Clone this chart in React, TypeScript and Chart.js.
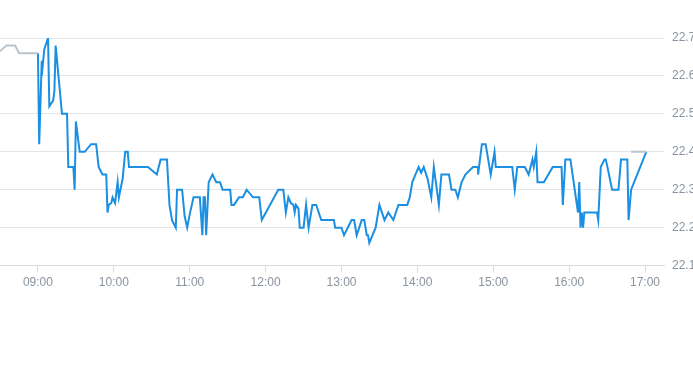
import React, { useEffect, useRef } from "react";
import { Chart, registerables } from "chart.js";

Chart.register(...registerables);

const hourTicks = ["09:00", "10:00", "11:00", "12:00", "13:00", "14:00", "15:00", "16:00", "17:00"];
const priceTicks = [22.1, 22.2, 22.3, 22.4, 22.5, 22.6, 22.7];

const preTimes = ["08:30", "08:35", "08:42", "08:45", "09:00"];
const prePrices = [22.665, 22.68, 22.68, 22.66, 22.66];

const postTimes = ["16:49", "17:01"];
const postPrices = [22.4, 22.4];

const mainTimes = [
  "09:00", "09:01", "09:03", "09:03", "09:05", "09:07", "09:08", "09:09", "09:12", "09:13",
  "09:14", "09:19", "09:23", "09:24", "09:28", "09:29", "09:30", "09:33", "09:37", "09:42",
  "09:46", "09:48", "09:51", "09:54", "09:55", "09:56", "09:58", "09:59", "10:01", "10:03",
  "10:04", "10:07", "10:09", "10:11", "10:12", "10:27", "10:34", "10:37", "10:42", "10:44",
  "10:46", "10:49", "10:50", "10:54", "10:56", "10:58", "11:00", "11:03", "11:08", "11:10",
  "11:11", "11:12", "11:13", "11:15", "11:18", "11:21", "11:24", "11:26", "11:32", "11:33",
  "11:35", "11:39", "11:42", "11:45", "11:50", "11:55", "11:57", "12:10", "12:14", "12:16",
  "12:18", "12:20", "12:22", "12:23", "12:24", "12:26", "12:27", "12:30", "12:32", "12:34",
  "12:37", "12:40", "12:44", "12:54", "12:55", "13:00", "13:02", "13:08", "13:10", "13:12",
  "13:16", "13:18", "13:20", "13:21", "13:22", "13:27", "13:30", "13:34", "13:37", "13:41",
  "13:45", "13:52", "13:54", "13:56", "14:01", "14:03", "14:05", "14:08", "14:11", "14:13",
  "14:17", "14:19", "14:25", "14:27", "14:30", "14:32", "14:35", "14:38", "14:44", "14:48",
  "14:48", "14:51", "14:54", "14:58", "15:01", "15:02", "15:15", "15:17", "15:19", "15:25",
  "15:28", "15:31", "15:32", "15:34", "15:35", "15:40", "15:47", "15:54", "15:55", "15:57",
  "16:01", "16:07", "16:08", "16:09", "16:10", "16:11", "16:12", "16:22", "16:23", "16:25",
  "16:28", "16:29", "16:34", "16:39", "16:41", "16:46", "16:47", "16:49", "17:01"
];
const mainPrices = [
  22.66, 22.42, 22.64, 22.6, 22.67, 22.69, 22.7, 22.52, 22.535, 22.56,
  22.68, 22.5, 22.5, 22.36, 22.36, 22.3, 22.48, 22.4, 22.4, 22.42,
  22.42, 22.36, 22.34, 22.34, 22.24, 22.26, 22.265, 22.28, 22.265, 22.32,
  22.28, 22.33, 22.4, 22.4, 22.36, 22.36, 22.34, 22.38, 22.38, 22.26,
  22.22, 22.2, 22.3, 22.3, 22.23, 22.2, 22.235, 22.28, 22.28, 22.18,
  22.28, 22.28, 22.18, 22.32, 22.34, 22.32, 22.32, 22.3, 22.3, 22.26,
  22.26, 22.28, 22.28, 22.3, 22.28, 22.28, 22.22, 22.3, 22.3, 22.24,
  22.28, 22.265, 22.26, 22.24, 22.26, 22.25, 22.2, 22.2, 22.26, 22.2,
  22.26, 22.26, 22.22, 22.22, 22.2, 22.2, 22.18, 22.22, 22.22, 22.18,
  22.22, 22.22, 22.18, 22.18, 22.16, 22.2, 22.26, 22.22, 22.24, 22.22,
  22.26, 22.26, 22.28, 22.32, 22.36, 22.345, 22.36, 22.33, 22.28, 22.36,
  22.26, 22.34, 22.34, 22.3, 22.3, 22.28, 22.32, 22.34, 22.36, 22.36,
  22.34, 22.42, 22.42, 22.34, 22.4, 22.36, 22.36, 22.3, 22.36, 22.36,
  22.34, 22.38, 22.36, 22.4, 22.32, 22.32, 22.36, 22.36, 22.26, 22.38,
  22.38, 22.24, 22.32, 22.2, 22.24, 22.2, 22.24, 22.24, 22.22, 22.36,
  22.38, 22.38, 22.3, 22.3, 22.38, 22.38, 22.22, 22.3, 22.4
];

const toMin = (s: string) => {
  const [h, m] = s.split(":").map(Number);
  return h * 60 + m;
};
const fmt = (v: number) => {
  const h = Math.floor(v / 60);
  const m = Math.round(v - h * 60);
  return String(h).padStart(2, "0") + ":" + String(m).padStart(2, "0");
};
const pts = (t: string[], p: number[]) => t.map((s, i) => ({ x: toMin(s), y: p[i] }));

export default function App() {
  const ref = useRef<HTMLCanvasElement | null>(null);
  useEffect(() => {
    document.body.style.margin = "0";
    document.body.style.overflow = "hidden";
    const chart = new Chart(ref.current!, {
      type: "line",
      data: {
        datasets: [
          {
            data: pts(preTimes, prePrices),
            borderColor: "#b9c4cc",
            borderWidth: 2,
            pointRadius: 0,
            tension: 0,
          },
          {
            data: pts(postTimes, postPrices),
            borderColor: "#b9c4cc",
            borderWidth: 2,
            pointRadius: 0,
            tension: 0,
          },
          {
            data: pts(mainTimes, mainPrices),
            borderColor: "#1b8fe2",
            borderWidth: 2,
            pointRadius: 0,
            tension: 0,
          },
        ],
      },
      options: {
        animation: false,
        responsive: false,
        maintainAspectRatio: false,
        layout: { padding: { top: 38, bottom: 7, left: 0, right: 0 } },
        plugins: { legend: { display: false }, tooltip: { enabled: false } },
        scales: {
          x: {
            type: "linear",
            min: toMin("08:30"),
            max: toMin("17:15"),
            afterBuildTicks: (scale: any) => {
              scale.ticks = hourTicks.map((h) => ({ value: toMin(h) }));
            },
            grid: {
              drawOnChartArea: false,
              drawTicks: true,
              tickLength: 7,
              color: "#d9dde1",
            },
            border: { color: "#d9dde1" },
            ticks: {
              callback: (v: any) => fmt(Number(v)),
              color: "#8a939d",
              font: { family: "'Liberation Sans Narrow', 'Liberation Sans', sans-serif", size: 12 },
              padding: 3,
              maxRotation: 0,
              autoSkip: false,
            },
          },
          y: {
            position: "right",
            min: 22.1,
            max: 22.7,
            afterBuildTicks: (scale: any) => {
              scale.ticks = priceTicks.map((v) => ({ value: v }));
            },
            afterFit: (scale: any) => {
              scale.width = 36;
            },
            grid: { color: "#e3e6e9", drawTicks: false },
            border: { display: false },
            ticks: {
              callback: (v: any) => Number(v).toFixed(1),
              color: "#8a939d",
              font: { family: "'Liberation Sans Narrow', 'Liberation Sans', sans-serif", size: 12 },
              padding: 8,
            },
          },
        },
      },
    } as any);
    return () => chart.destroy();
  }, []);
  return (
    <div style={{ width: 693, height: 365, overflow: "hidden", background: "#fff" }}>
      <canvas ref={ref} width={700} height={300} style={{ display: "block" }} />
    </div>
  );
}
